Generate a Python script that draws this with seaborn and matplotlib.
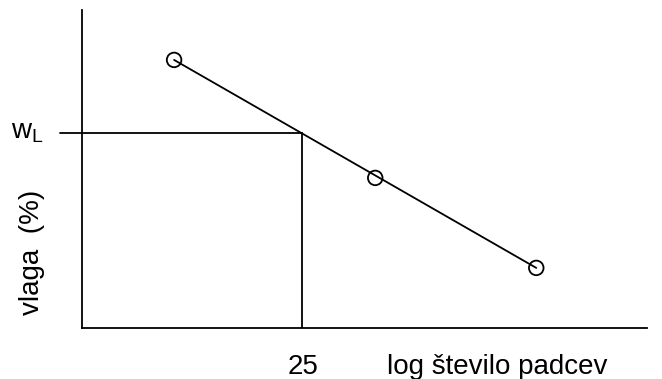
import matplotlib

matplotlib.use("Agg")

import matplotlib.pyplot as plt
import seaborn as sns

# test points (log number of blows vs. water content), arbitrary units
blows_log = [1.63, 5.19, 8.04]
moisture = [8.43, 4.72, 1.89]
# liquid limit read at 25 blows
x_25 = 3.89
w_liquid = 6.13

sns.set_theme(style="white")
plt.rcParams["font.family"] = ["Liberation Sans", "DejaVu Sans"]
plt.rcParams["mathtext.fontset"] = "custom"
plt.rcParams["mathtext.rm"] = "Liberation Sans"
plt.rcParams["text.color"] = "black"

fig = plt.figure(figsize=(6.62, 3.79), dpi=100)
ax = fig.add_axes([82 / 662, 51 / 379, 565 / 662, 318 / 379])

sns.lineplot(x=[blows_log[0], blows_log[-1]], y=[moisture[0], moisture[-1]],
             ax=ax, color="black", linewidth=1.3)
sns.scatterplot(x=blows_log, y=moisture, ax=ax, s=110, facecolor="none",
                edgecolor="black", linewidth=1.3, zorder=3)

ax.plot([-0.39, x_25], [w_liquid, w_liquid], color="black", linewidth=1.3, clip_on=False)
ax.plot([x_25, x_25], [0, w_liquid], color="black", linewidth=1.3)

ax.set_xlim(0, 10)
ax.set_ylim(0, 10)
ax.set_xticks([])
ax.set_yticks([])
for side in ["top", "right"]:
    ax.spines[side].set_visible(False)
for side in ["left", "bottom"]:
    ax.spines[side].set_color("black")
    ax.spines[side].set_linewidth(1.3)

fig.text(11 / 662, 1 - 138 / 379, "w$_{\\mathrm{L}}$", fontsize=20, va="baseline", ha="left")
fig.text(32 / 662, 1 - 252 / 379, "vlaga  (%)", fontsize=20, rotation=90, va="center", ha="center")
fig.text(303 / 662, 1 - 374 / 379, "25", fontsize=20, va="baseline", ha="center")
fig.text(497 / 662, 1 - 374 / 379, "log število padcev", fontsize=20, va="baseline", ha="center")

fig.savefig("out.png", dpi=100)
